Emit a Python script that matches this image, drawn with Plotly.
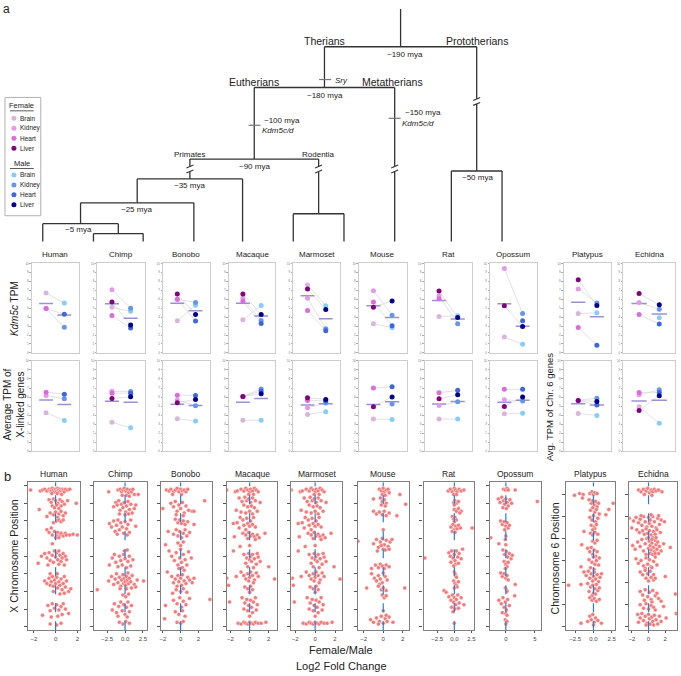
import plotly.graph_objects as go
import numpy as np

W, H = 681, 676
FONT = "Arial, Liberation Sans, sans-serif"

species = ["Human", "Chimp", "Bonobo", "Macaque", "Marmoset", "Mouse", "Rat", "Opossum", "Platypus", "Echidna"]
tissues = ["Brain", "Kidney", "Heart", "Liver"]
female_colors = ["#d9b5dc", "#e39be3", "#dc6bdc", "#82007f"]
male_colors = ["#87cdf8", "#6596ec", "#3f66e0", "#00008b"]
N = None

# ---- panel a, top row: Kdm5c TPM (per species) ----
kdm5c_f_brain = [6.7, 5.09, 3.59, 3.7, 7.59, 3.26, 4.07, 1.78, 4.41, N]
kdm5c_f_kidney = [4.95, 7.07, 6.0, 6.11, 6.11, 6.96, 6.37, 9.44, 7.15, 5.63]
kdm5c_f_heart = [4.95, 4.18, 6.0, 5.78, 4.74, 5.7, 6.04, N, 2.85, 4.3]
kdm5c_f_liver = [N, 5.68, 6.59, 6.59, 7.15, 5.11, 6.93, 5.26, 8.19, 6.63]
kdm5c_m_brain = [5.57, 4.65, 5.33, 5.3, 5.26, 2.81, 4.15, 0.96, 4.48, 3.93]
kdm5c_m_kidney = [2.86, 4.98, 5.63, 3.63, 2.7, 4.22, 3.26, 4.41, 5.59, 4.89]
kdm5c_m_heart = [4.32, 2.78, 3.56, 3.3, 2.48, 3.04, N, 3.59, 0.85, 3.22]
kdm5c_m_liver = [N, 3.11, 4.3, 4.3, 4.85, 5.81, 3.96, 2.96, 5.3, 5.37]

# ---- panel a, bottom row: average TPM of X-linked (Chr. 6) genes ----
xavg_f_brain = [4.26, 3.2, 3.6, 3.44, 4.07, 3.56, 3.56, 4.15, 4.19, 4.93]
xavg_f_kidney = [6.18, 6.65, 5.66, 6.07, 4.81, N, 5.07, 5.7, 5.62, 6.25]
xavg_f_heart = [6.54, 6.43, 6.21, 6.07, 5.63, 7.0, 6.48, 6.85, 5.62, 6.51]
xavg_f_liver = [N, 5.85, 5.37, 6.07, 5.93, 4.93, 5.81, 4.96, 5.62, 4.52]
xavg_m_brain = [3.42, 2.6, 3.35, 3.44, 4.37, 3.52, 3.56, 4.22, 3.97, 3.09]
xavg_m_kidney = [5.8, 6.62, 5.04, 6.89, 5.33, 5.22, 5.48, 5.56, 5.88, 6.8]
xavg_m_heart = [6.32, 6.43, 6.18, 6.67, 5.56, 7.15, 6.74, 6.85, 5.11, 6.51]
xavg_m_liver = [N, 6.03, 5.74, 6.37, 5.74, 6.0, 6.26, 6.0, 5.51, 6.14]

# ---- panel b: (log2 fold change, chromosome position in Mb) ----
human_fc = [(-2.3,155),(-1.4,154),(-1.2,155),(-1.0,156),(-0.8,154),(-0.6,156),(-0.5,154),(-0.4,155),(-0.3,157),(-0.2,155),(-0.1,153),(0.0,156),(0.1,154),(0.2,157),(0.25,155),(0.3,153),(0.4,156),(0.5,154),(0.6,156),(0.7,155),(0.8,153),(0.9,156),(1.1,155),(1.3,156),(0.15,151),(-0.35,151),(0.55,150),
 (-0.6,144),(-0.4,141),(-0.2,145),(0.0,143),(0.2,140),(0.4,144),(0.6,142),(0.8,139),(-0.3,137),(0.1,138),(0.5,137),(-1.5,133),(1.9,140),(1.1,143),(-0.1,135),(0.3,134),
 (-0.5,129),(-0.2,127),(0.0,130),(0.3,128),(0.5,131),(0.7,126),(0.9,129),(0.2,124),(-0.8,125),
 (0.1,120),(0.3,121),(0.5,119),(0.7,121),(-0.2,118),
 (-0.8,110),(-0.6,107),(-0.3,104),(-0.1,108),(0.1,103),(0.2,107),(0.4,104),(0.5,106),(0.7,103),(0.9,106),(1.0,104),(1.3,104),(1.6,105),(2.0,104),(-0.4,112),(0.0,101),(0.3,101),
 (-0.3,94),
 (-1.6,72),(-1.3,80),(-1.0,83),(-0.8,78),(-0.6,84),(-0.5,75),(-0.3,81),(-0.2,73),(0.0,79),(0.1,84),(0.2,76),(0.3,71),(0.4,81),(0.5,74),(0.6,78),(0.7,83),(0.8,70),(1.0,76),(-0.1,86),(0.3,86),(-0.7,70),(0.9,80),
 (-1.0,52),(-0.8,49),(-0.6,55),(-0.5,47),(-0.4,51),(-0.3,57),(-0.2,46),(-0.1,53),(0.0,49),(0.1,56),(0.2,44),(0.3,51),(0.4,47),(0.5,54),(0.6,42),(0.7,49),(0.8,57),(0.9,45),(1.0,52),(1.2,40),(1.4,43),(0.4,37),(0.8,38),(-0.2,40),(0.15,60),(-0.5,60),
 (-0.7,24),(-0.5,18),(-0.3,26),(-0.1,21),(0.1,25),(0.3,19),(0.5,23),(0.7,26),(0.9,20),(-1.2,13),(1.2,15),(0.2,12),(-0.4,11),(0.6,14),
 (-0.5,3),(0.1,2),(0.5,4)]

chimp_fc = [(-2.3,153),(-1.0,155),(-0.7,156),(-0.5,153),(-0.3,155),(-0.1,157),(0.1,154),(0.3,156),(0.5,152),(0.7,155),(0.9,153),(1.1,156),(1.3,150),(1.85,150),(0.2,149),(-0.4,149),(0.6,148),
 (-1.6,136),(-1.3,141),(-1.1,138),(-0.9,143),(-0.7,132),(-0.5,139),(-0.3,135),(-0.1,141),(0.1,130),(0.2,137),(0.4,142),(0.6,133),(0.8,139),(1.0,129),(1.3,134),(1.5,138),(-0.8,128),(0.0,127),(0.5,128),
 (-2.2,117),(-1.9,113),(-1.6,120),(-1.4,108),(-1.2,115),(-1.0,121),(-0.8,110),(-0.6,118),(-0.4,113),(-0.2,106),(0.0,119),(0.2,111),(0.4,116),(0.6,107),(0.8,121),(1.5,114),(-1.1,105),(0.3,104),
 (-2.2,70),(-1.8,78),(-1.5,82),(-1.3,73),(-1.0,68),(-0.8,80),(-0.6,75),(-0.4,70),(-0.2,82),(0.0,77),(0.2,67),(0.4,74),(0.6,80),(0.8,69),(1.1,76),(-0.1,86),(0.3,87),
 (-2.3,52),(-1.9,57),(-1.6,48),(-1.4,54),(-1.2,60),(-1.0,50),(-0.8,56),(-0.6,46),(-0.5,53),(-0.3,59),(-0.2,49),(-0.1,55),(0.0,51),(0.1,47),(0.2,57),(0.3,53),(0.4,61),(0.5,49),(0.6,55),(0.8,51),(1.0,58),(1.3,48),(1.7,53),(2.6,52),(-3.9,42),(0.2,43),(-0.7,43),(0.9,44),(1.5,45),
 (-0.3,36),(0.1,34),(0.5,37),
 (-1.8,19),(-1.5,26),(-1.2,16),(-0.9,23),(-0.6,28),(-0.4,18),(-0.2,25),(0.0,14),(0.2,22),(0.4,28),(0.6,17),(0.9,24),(-1.0,12),(0.3,11),
 (-0.8,5),(-0.3,3),(0.1,6),(0.6,4)]

bonobo_fc = [(-1.6,155),(-1.3,154),(-1.1,156),(-0.8,153),(-0.6,155),(-0.4,157),(-0.2,153),(0.0,156),(0.2,154),(0.4,155),(0.6,153),(0.8,156),(-0.9,150),(0.1,150),
 (2.7,143),(-2.0,134),(-1.1,140),(-0.8,136),(-0.6,142),(-0.4,131),(-0.2,138),(0.0,134),(0.2,141),(0.4,129),(0.6,137),(0.9,132),(1.3,131),(1.5,131),(-0.5,127),(0.3,126),
 (-0.6,122),(-0.3,118),(-0.1,121),(0.1,117),(0.3,120),(0.5,116),(0.8,119),(1.5,116),
 (-1.4,108),(-0.8,105),(-0.5,110),(-0.3,103),(-0.1,108),(0.1,101),(0.3,106),(0.5,110),(0.7,103),(1.0,107),
 (-1.7,93),(-0.3,95),(0.0,92),(0.3,96),
 (-1.3,86),(-1.0,80),(-0.7,75),(-0.5,84),(-0.3,70),(-0.1,78),(0.0,88),(0.1,73),(0.3,82),(0.5,76),(0.7,70),(0.9,85),(1.2,78),(-0.2,66),(0.2,67),(-1.5,62),(0.4,64),
 (-1.0,57),(-0.8,50),(-0.6,54),(-0.4,46),(-0.3,58),(-0.2,51),(0.0,55),(0.1,47),(0.2,59),(0.4,52),(0.6,49),(0.8,56),(1.0,53),(1.3,50),(1.5,55),(-0.5,42),(0.3,43),(0.0,40),(-0.9,38),(0.7,39),
 (3.3,31),(-1.7,24),(-0.8,30),(-0.4,26),(-0.1,33),(0.1,22),(0.3,29),(0.6,25),(1.0,32),(-0.6,17),(-0.2,14),(0.2,18),(0.5,12),(-1.8,9),(-0.4,5),(0.0,4),(0.3,6)]

macaque_fc = [(-2.4,155),(-1.5,153),(-1.3,154),(-0.9,156),(-0.6,154),(-0.4,157),(-0.2,155),(0.0,153),(0.1,156),(0.3,154),(0.5,157),(0.7,155),(0.9,153),(-0.1,150),(0.4,150),
 (-1.1,146),(-0.8,142),(-0.5,147),(-0.3,143),(-0.1,145),(0.1,141),(0.3,146),(0.6,143),(1.1,141),(-0.6,138),(-0.2,136),(0.2,137),(0.5,135),(-1.4,132),(-0.9,130),(-0.4,129),(0.0,131),(0.3,128),(0.8,131),(-1.0,124),(-0.7,121),(-0.3,123),(0.1,120),(0.4,124),(-1.7,117),(-1.3,118),(-0.6,115),(-0.2,117),(0.0,114),(0.3,116),(0.6,113),(-1.1,112),(-0.4,110),
 (-1.6,102),(-0.7,106),(-0.4,104),(-0.1,107),(0.1,103),(0.3,105),(0.5,102),(0.8,104),(1.0,101),(1.6,106),(-0.2,100),(0.6,99),
 (-1.0,91),(0.0,92),(-1.7,86),
 (-0.6,82),(-0.3,78),(-0.1,83),(0.0,76),(0.1,80),(0.2,74),(0.3,82),(0.5,77),(0.7,71),(0.9,79),(1.1,74),(-0.4,72),(-0.2,68),(0.4,67),(2.0,68),(0.8,83),
 (-2.4,55),(-1.4,57),(-0.9,62),(-0.6,58),(-0.4,54),(-0.2,60),(0.0,56),(0.1,62),(0.3,58),(0.5,53),(0.7,61),(0.9,57),(2.6,54),(-0.1,52),(0.4,50),
 (-2.2,47),(-0.5,45),(-0.2,43),(0.1,46),(0.3,42),(0.0,39),
 (-2.1,28),(-0.8,33),(-0.5,27),(-0.3,31),(-0.1,24),(0.1,30),(0.2,22),(0.4,28),(0.6,33),(0.8,25),(-0.6,20),(-0.2,18),(0.3,16),(0.7,19),(0.0,12),
 (-1.2,4),(-0.9,3),(-0.6,5),(-0.4,4),(-0.2,3),(0.0,5),(0.2,4),(0.4,3),(0.6,5),(0.9,4),(1.2,4),(1.7,5)]

marmoset_fc = [(-2.4,155),(-1.5,153),(-1.3,154),(-0.9,156),(-0.6,154),(-0.4,157),(-0.2,155),(0.0,153),(0.1,156),(0.3,154),(0.5,157),(0.7,155),(0.9,153),(-0.1,150),(0.4,150),
 (-1.1,146),(-0.8,142),(-0.5,147),(-0.3,143),(-0.1,145),(0.1,141),(0.3,146),(0.6,143),(1.1,141),(-0.6,138),(-0.2,136),(0.2,137),(0.5,135),(-1.4,132),(-0.9,130),(-0.4,129),(0.0,131),(0.3,128),(0.8,131),(-1.0,124),(-0.7,121),(-0.3,123),(0.1,120),(0.4,124),(-1.7,117),(-1.3,118),(-0.6,115),(-0.2,117),(0.0,114),(0.3,116),(0.6,113),(-1.1,112),(-0.4,110),
 (-1.6,102),(-0.7,106),(-0.4,104),(-0.1,107),(0.1,103),(0.3,105),(0.5,102),(0.8,104),(1.0,101),(1.6,106),(-0.2,100),(0.6,99),
 (-1.0,91),(0.0,92),(-1.7,86),
 (-0.6,82),(-0.3,78),(-0.1,83),(0.0,76),(0.1,80),(0.2,74),(0.3,82),(0.5,77),(0.7,71),(0.9,79),(1.1,74),(-0.4,72),(-0.2,68),(0.4,67),(1.9,68),(0.8,83),
 (-2.3,55),(-1.4,57),(-0.9,62),(-0.6,58),(-0.4,54),(-0.2,60),(0.0,56),(0.1,62),(0.3,58),(0.5,53),(0.7,61),(0.9,57),(2.5,54),(-0.1,52),(0.4,50),
 (-2.2,47),(-0.5,45),(-0.2,43),(0.1,46),(0.3,42),(0.0,39),
 (-2.1,28),(-0.8,33),(-0.5,27),(-0.3,31),(-0.1,24),(0.1,30),(0.2,22),(0.4,28),(0.6,33),(0.8,25),(-0.6,20),(-0.2,18),(0.3,16),(0.7,19),(0.0,12),
 (-1.2,4),(-0.9,3),(-0.6,5),(-0.4,4),(-0.2,3),(0.0,5),(0.2,4),(0.4,3),(0.6,5),(0.9,4),(1.2,4),(1.7,5)]

mouse_fc = [(-0.4,156),(-0.2,154),(0.0,157),(0.1,153),(0.3,155),(0.5,156),(0.6,152),(-0.1,150),(0.2,149),(1.7,150),
 (-1.0,145),(-0.3,146),(-0.1,142),(0.1,144),(0.3,140),(2.3,139),(-0.2,138),(0.2,137),
 (-1.0,131),(-0.7,128),(-0.4,130),(-0.1,127),(0.1,131),(0.3,126),(0.6,129),(1.4,126),
 (0.0,110),
 (-2.6,97),(-1.0,94),(-0.7,99),(-0.5,90),(-0.3,96),(-0.1,100),(0.0,88),(0.1,93),(0.3,98),(0.5,91),(0.7,96),(0.9,99),(-0.6,86),(0.2,87),(0.6,88),(-0.2,92),
 (-1.2,66),(-0.8,70),(-0.5,67),(-0.3,71),(-0.1,69),(0.1,66),(0.3,70),(0.6,68),
 (-1.2,60),(-0.9,55),(-0.7,52),(-0.5,58),(-0.3,54),(-0.1,50),(0.0,61),(0.2,57),(0.4,53),(-0.4,48),
 (-1.7,44),(-0.5,46),(-0.2,42),(0.0,44),(0.3,41),(2.2,44),
 (-0.1,36),(0.1,33),(0.3,35),
 (0.0,18),
 (-1.3,8),(-1.0,5),(-0.7,10),(-0.4,6),(-0.2,12),(0.0,4),(0.2,9),(0.4,6),(0.6,11),(1.0,5),(-0.5,3),(0.3,13)]

rat_fc = [(-0.9,154),(-0.6,156),(-0.3,153),(0.0,157),(0.2,155),(0.4,153),(0.7,156),(1.0,154),(1.4,155),(-0.1,150),(0.3,150),
 (-0.1,141),(0.1,143),(0.3,140),(0.6,142),(0.0,138),
 (0.0,133),(0.3,131),(0.6,134),(1.0,131),(0.8,129),
 (-0.3,125),(-0.1,122),(0.1,124),(0.3,121),(0.0,119),
 (-0.5,113),(-0.2,116),(0.0,110),(0.2,114),(0.4,111),(0.6,115),(0.9,112),(2.6,112),(-0.3,108),(0.1,107),
 (-4.3,78),(-0.8,84),(-0.6,80),(-0.4,86),(-0.2,78),(0.0,82),(0.1,75),(0.3,86),(0.5,79),(0.7,83),(1.0,77),(-0.5,73),(0.2,71),(0.6,72),(-0.1,69),(1.2,88),
 (0.0,62),(0.2,58),(0.3,56),(0.1,60),
 (-0.1,52),(0.1,49),(0.3,47),(0.6,51),(0.4,45),(0.0,44),
 (-1.5,41),(-1.2,39),
 (-0.8,34),(-0.5,30),(-0.3,36),(-0.1,28),(0.0,33),(0.2,25),(0.3,31),(0.5,36),(0.7,27),(1.0,33),(1.4,25),(-0.4,22),(0.1,20),(0.6,21),(-0.2,17),
 (0.0,4)]

opossum_fc = [(-0.4,156),(-0.1,155),(0.2,157),(0.4,155),(1.6,155),
 (-1.3,145),(-1.0,141),(-0.7,147),(-0.4,143),(-0.2,139),(0.0,145),(0.2,141),(0.4,137),(0.7,144),(1.0,140),(5.4,142),(-0.5,135),(0.1,134),
 (-0.9,120),(-0.6,116),(-0.3,119),(0.0,114),(0.2,118),(0.4,112),(0.6,115),(-0.2,110),
 (-2.6,101),(0.0,103),(-0.1,99),
 (-1.2,94),(0.0,93),
 (-0.5,87),(-0.2,82),(0.1,85),(0.3,79),(0.6,83),(0.9,77),(1.1,81),(-0.3,74),(0.0,71),(0.4,73),(0.2,68),(-0.1,66),
 (-0.9,61),(-0.6,57),(-0.3,60),(0.0,55),(0.2,58),(0.4,53),(1.6,48),
 (-0.1,44),(0.1,42),(0.2,40),
 (-1.2,30),(-0.8,26),(-0.5,33),(-0.3,22),(-0.1,28),(0.1,19),(0.3,31),(0.6,24),(1.5,35),(-0.6,16),(0.0,15),(0.2,13),
 (-0.1,8),(0.1,5),(0.2,6),(0.0,3)]

platypus_fc = [(-2.6,149),(-1.9,151),(-1.4,150),(-0.5,151),(-0.2,153),(0.0,150),(0.2,152),(0.5,151),(-1.5,146),
 (-0.6,144),(-0.3,140),(-0.1,143),(0.1,138),(0.3,142),(0.5,136),(0.7,140),(2.7,140),(-0.4,132),(-0.1,135),(0.2,130),(0.4,133),(0.8,128),(2.1,133),(1.7,127),(-0.5,124),(-0.2,121),(0.0,126),(0.3,119),(0.6,123),(-0.3,115),(0.1,113),(0.4,116),(0.2,111),(-0.1,110),
 (-1.3,108),(-0.4,106),(-0.1,104),(0.2,107),(0.6,105),
 (-1.6,93),(-0.1,97),(0.2,95),(0.5,98),
 (-0.8,89),(-0.5,85),(-0.3,90),(-0.1,82),(0.1,87),(0.3,80),(0.5,85),(0.8,78),(-0.6,76),(-0.2,73),(0.0,79),(0.2,71),(0.4,75),(0.7,70),(-1.7,68),(-0.4,67),(0.1,65),
 (-1.3,62),(-1.0,58),(-0.7,63),(-0.5,55),(-0.3,60),(-0.1,52),(0.0,57),(0.1,62),(0.3,54),(0.5,59),(0.7,51),(0.9,56),(1.1,60),(-3.4,47),(-1.7,48),(-0.8,49),(-0.4,45),(-0.1,47),(0.2,43),(0.4,48),(0.6,41),(-0.6,40),(0.0,38),(0.3,37),(0.8,44),(-0.2,35),
 (-0.5,33),(-0.2,30),(0.1,32),(0.4,29),(0.8,31),
 (-1.7,4),(-0.8,6),(-0.5,12),(-0.3,8),(-0.1,14),(0.1,5),(0.3,10),(0.6,7),(1.1,4),(0.0,2)]

echidna_fc = [(-1.2,155),(-0.9,153),(-0.6,156),(-0.3,154),(-0.1,157),(0.1,152),(0.3,155),(0.5,153),(0.7,156),(0.9,154),(1.2,155),(1.6,153),(-0.5,150),(0.4,149),
 (-2.3,123),(-1.8,120),(-1.5,124),(-1.2,118),(-1.0,122),(-0.8,115),(-0.6,125),(-0.4,119),(-0.2,113),(0.0,124),(0.1,117),(0.2,121),(0.4,114),(0.5,125),(0.7,119),(0.9,112),(1.1,123),(1.3,116),(1.5,121),(1.9,119),(-1.4,110),(-1.1,107),(-0.7,109),(-0.5,105),(-0.3,111),(-0.1,106),(0.1,109),(0.3,104),(0.6,108),(0.8,105),(1.0,110),(1.4,107),(-2.0,112),(-0.9,126),(0.3,127),(1.2,126),
 (-1.9,92),(-1.6,88),(-1.3,96),(-1.0,91),(-0.8,99),(-0.6,86),(-0.4,94),(-0.2,100),(0.0,89),(0.1,97),(0.2,92),(0.3,87),(0.4,95),(0.5,101),(0.6,90),(0.7,85),(0.8,98),(0.9,93),(1.0,88),(1.1,96),(1.3,91),(1.5,86),(1.8,94),(2.6,90),(0.2,83),(0.5,82),(0.8,83),(-0.3,82),(1.2,83),(0.0,101),(0.4,99),(0.9,101),
 (-1.5,77),(-1.2,72),(-0.9,75),(-0.6,69),(-0.3,78),(-0.1,71),(0.1,76),(0.3,68),(0.6,74),(0.8,79),(1.0,70),(-0.4,66),(0.4,67),
 (-1.0,62),(-0.7,59),(-0.4,64),(-0.1,60),(0.2,63),(0.6,59),
 (-0.3,55),(0.0,52),(0.3,56),(0.6,53),(0.8,55),(2.0,57),
 (-1.0,40),(-0.7,36),(-0.4,42),(-0.1,34),(0.1,39),(0.3,31),(0.5,41),(0.8,35),(1.0,38),(1.2,32),(3.2,37),(1.5,29),(-0.5,30),(0.4,28),
 (1.8,23),(-1.0,25),(-0.6,21),(-0.3,26),(0.0,20),(0.3,24),(0.6,22),(0.8,19),
 (-1.3,14),(-1.0,10),(-0.8,15),(-0.6,7),(-0.4,12),(-0.2,4),(0.0,14),(0.1,9),(0.2,3),(0.4,11),(0.5,6),(0.7,13),(0.9,8),(1.1,3),(1.3,12),(1.5,6),(3.3,15),(2.1,10),(-1.2,5),(-0.3,2),(0.6,2)]

fc_data = [human_fc, chimp_fc, bonobo_fc, macaque_fc, marmoset_fc, mouse_fc, rat_fc, opossum_fc, platypus_fc, echidna_fc]
fc_ranges = [[-2.55, 2.2], [-4.3, 3.1], [-2.2, 3.5], [-2.4, 2.9], [-2.4, 2.7], [-2.6, 2.6], [-4.5, 2.9], [-2.7, 6.0], [-3.8, 3.0], [-2.3, 3.4]]
fc_ticks = [[-2, 0, 2], [-2.5, 0, 2.5], [-2, 0, 2], [-2, 0, 2], [-2, 0, 2], [-2, 0, 2], [-2.5, 0, 2.5], [0, 5], [-2.5, 0, 2.5], [-2, 0, 2]]
fc_tickfmt = ["d", ".1f", "d", "d", "d", "d", ".1f", "d", ".1f", "d"]

# ---- layout constants (pixels) ----
pa_x0 = [30, 96, 162, 228, 293, 359, 425, 491, 565, 625]
pa_x1 = [77, 144, 209, 275, 340, 407, 473, 538, 613, 677]
pa_rows = [(263, 353), (361, 452)]
pb_x0 = [26, 93, 160, 226, 291, 358, 424, 491, 567, 631]
pb_x1 = [78, 146, 211, 277, 342, 409, 475, 542, 617, 679]
pb_y = (483, 632)


def dx(x0, x1):
    return [x0 / W, x1 / W]


def dy(y0, y1):
    return [1 - y1 / H, 1 - y0 / H]


fig = go.Figure()
layout = dict(width=W, height=H, margin=dict(l=0, r=0, t=0, b=0),
              paper_bgcolor="white", plot_bgcolor="rgba(0,0,0,0)", showlegend=False,
              font=dict(family=FONT, color="#222"))
layout["xaxis"] = dict(domain=[0, 1], range=[0, W], visible=False)
layout["yaxis"] = dict(domain=[0, 1], range=[H, 0], visible=False)
annotations = []
shapes = []


def txt(x, y, s, size=9, anchor="center", angle=0, color="#222"):
    annotations.append(dict(x=x, y=y, xref="x", yref="y", text=s, showarrow=False,
                            font=dict(size=size, family=FONT, color=color),
                            xanchor=anchor, yanchor="middle", textangle=angle))


# ---- phylogenetic tree ----
leaf_x = {"Human": 41, "Chimp": 92, "Bonobo": 142, "Macaque": 193, "Marmoset": 242,
          "Mouse": 293, "Rat": 344, "Opossum": 395, "Platypus": 452, "Echidna": 503}
leaf_y = 241
tree = ("Mammals", 45, [
    ("Therians", 86, [
        ("Eutherians", 158, [
            ("Primates", 178, [
                ("Catarrhini", 202, [
                    ("Hominini", 223, ["Human", ("Pan", 233, ["Chimp", "Bonobo"])]),
                    "Macaque"]),
                "Marmoset"]),
            ("Rodentia", 213, ["Mouse", "Rat"])]),
        "Opossum"]),
    ("Monotremes", 170, ["Platypus", "Echidna"])])
breaks = {"Primates": 168, "Rodentia": 168, "Opossum": 168, "Monotremes": 100}

tx, ty = [], []
brk_pts = []


def draw(node):
    if isinstance(node, str):
        return leaf_x[node], leaf_y, node
    name, y, kids = node
    res = [draw(k) for k in kids]
    xs = [r[0] for r in res]
    x = float(np.mean(xs))
    tx.extend([min(xs), max(xs), None]); ty.extend([y, y, None])
    for (cx, cy, cname) in res:
        tx.extend([cx, cx, None]); ty.extend([y, cy, None])
        if cname in breaks:
            brk_pts.append((cx, breaks[cname]))
    return x, y, name


rx, ry, _ = draw(tree)
tx.extend([rx, rx, None]); ty.extend([7, ry, None])
fig.add_trace(go.Scatter(x=tx, y=ty, mode="lines", line=dict(color="#333", width=1.3),
                         xaxis="x", yaxis="y", hoverinfo="skip"))
# branch ticks (gene events)
ev_x, ev_y = [], []
for (x0, x1, y) in [(319, 331, 78), (248, 260, 124), (389, 401, 117)]:
    ev_x.extend([x0, x1, None]); ev_y.extend([y, y, None])
fig.add_trace(go.Scatter(x=ev_x, y=ev_y, mode="lines", line=dict(color="#777", width=1.2),
                         xaxis="x", yaxis="y", hoverinfo="skip"))
# break marks
wx, wy, sx, sy = [], [], [], []
for (bx, by) in brk_pts:
    wx.extend([bx, bx, None]); wy.extend([by - 2.6, by + 2.6, None])
    sx.extend([bx - 3.5, bx + 3.5, None, bx - 3.5, bx + 3.5, None])
    sy.extend([by - 1, by - 4, None, by + 4, by + 1, None])
fig.add_trace(go.Scatter(x=wx, y=wy, mode="lines", line=dict(color="white", width=3),
                         xaxis="x", yaxis="y", hoverinfo="skip"))
fig.add_trace(go.Scatter(x=sx, y=sy, mode="lines", line=dict(color="#333", width=1.1),
                         xaxis="x", yaxis="y", hoverinfo="skip"))

txt(5, 7, "a", size=12)
txt(324, 39, "Therians", size=10.5)
txt(478, 39, "Prototherians", size=10.5)
txt(405, 53, "~190 mya", size=8)
txt(253, 80, "Eutherians", size=10.5)
txt(393, 80, "Metatherians", size=10.5)
txt(333, 79, "<i>Sry</i>", size=8, anchor="left")
txt(325, 94, "~180 mya", size=8)
txt(262, 119, "~100 mya", size=8, anchor="left")
txt(278, 129, "<i>Kdm5c/d</i>", size=8)
txt(403, 111, "~150 mya", size=8, anchor="left")
txt(418, 122, "<i>Kdm5c/d</i>", size=8)
txt(189, 153, "Primates", size=8)
txt(318, 153, "Rodentia", size=8)
txt(254, 165, "~90 mya", size=8)
txt(189, 185, "~35 mya", size=8)
txt(135, 209, "~25 mya", size=8)
txt(77, 229, "~5 mya", size=8)
txt(478, 177, "~50 mya", size=8)

# ---- legend box ----
shapes.append(dict(type="rect", xref="x", yref="y", x0=3, x1=39, y0=96, y1=215,
                   line=dict(color="#b0b0b0", width=1), fillcolor="white", layer="below"))
txt(20, 104, "Female", size=7.5)
txt(20, 162, "Male", size=7.5)
for uy in (109.5, 167.5):
    shapes.append(dict(type="line", xref="x", yref="y", x0=8, x1=32, y0=uy, y1=uy,
                       line=dict(color="#333", width=0.8)))
leg_y_f = [117, 127, 137, 147]
leg_y_m = [174, 184, 194, 204]
fig.add_trace(go.Scatter(x=[12] * 8, y=leg_y_f + leg_y_m, mode="markers",
                         marker=dict(size=5, color=female_colors + male_colors),
                         xaxis="x", yaxis="y", hoverinfo="skip"))
for t, yy in zip(tissues * 2, leg_y_f + leg_y_m):
    txt(16, yy, t, size=6.5, anchor="left")

# ---- panel a ----
rows = [
    ([kdm5c_f_brain, kdm5c_f_kidney, kdm5c_f_heart, kdm5c_f_liver],
     [kdm5c_m_brain, kdm5c_m_kidney, kdm5c_m_heart, kdm5c_m_liver]),
    ([xavg_f_brain, xavg_f_kidney, xavg_f_heart, xavg_f_liver],
     [xavg_m_brain, xavg_m_kidney, xavg_m_heart, xavg_m_liver]),
]
k = 2
for r, (fl, ml) in enumerate(rows):
    y0, y1 = pa_rows[r]
    for i, sp in enumerate(species):
        xa, ya = f"x{k}", f"y{k}"
        layout[f"xaxis{k}"] = dict(domain=dx(pa_x0[i], pa_x1[i]), range=[0.22, 2.78], anchor=ya,
                                   showticklabels=False, ticks="", showgrid=False, zeroline=False,
                                   showline=True, mirror=True, linecolor="#cdcdcd", linewidth=1)
        layout[f"yaxis{k}"] = dict(domain=dy(y0, y1), range=[0, 10], dtick=1, anchor=xa,
                                   ticks="outside", ticklen=1.5, tickcolor="#aaa", tickwidth=0.5,
                                   tickfont=dict(size=3, color="#777"), showgrid=False, zeroline=False,
                                   showline=True, mirror=True, linecolor="#cdcdcd", linewidth=1)
        fv = [lst[i] for lst in fl]
        mv = [lst[i] for lst in ml]
        cx, cy = [], []
        for a, b in zip(fv, mv):
            if a is not None and b is not None:
                cx.extend([1, 2, None]); cy.extend([a, b, None])
        fig.add_trace(go.Scatter(x=cx, y=cy, mode="lines", line=dict(color="#d9d9d9", width=0.8),
                                 xaxis=xa, yaxis=ya, hoverinfo="skip"))
        fmean = float(np.mean([v for v in fv if v is not None]))
        mmean = float(np.mean([v for v in mv if v is not None]))
        fig.add_trace(go.Scatter(x=[0.62, 1.38, None, 1.62, 2.38], y=[fmean, fmean, None, mmean, mmean],
                                 mode="lines", line=dict(color="#9a90d4", width=1.5),
                                 xaxis=xa, yaxis=ya, hoverinfo="skip"))
        px_, py_, pc_ = [], [], []
        for v, c in zip(fv, female_colors):
            if v is not None:
                px_.append(1); py_.append(v); pc_.append(c)
        for v, c in zip(mv, male_colors):
            if v is not None:
                px_.append(2); py_.append(v); pc_.append(c)
        fig.add_trace(go.Scatter(x=px_, y=py_, mode="markers", marker=dict(size=5, color=pc_),
                                 xaxis=xa, yaxis=ya, hoverinfo="skip"))
        if r == 0:
            txt((pa_x0[i] + pa_x1[i]) / 2, 254, sp, size=8)
        k += 1

txt(12, 308, "<i>Kdm5c</i> TPM", size=10, angle=-90)
txt(12, 405, "Average TPM of<br>X-linked genes", size=10, angle=-90)
txt(551, 407, "Avg. TPM of Chr. 6 genes", size=9.5, angle=-90)

# ---- panel b ----
for i, sp in enumerate(species):
    xa, ya = f"x{k}", f"y{k}"
    layout[f"xaxis{k}"] = dict(domain=dx(pb_x0[i], pb_x1[i]), range=fc_ranges[i], anchor=ya,
                               tickvals=fc_ticks[i], tickformat=fc_tickfmt[i], ticks="outside",
                               ticklen=2, tickcolor="#555", tickfont=dict(size=6, color="#444"),
                               showgrid=False, zeroline=False, showline=True, mirror=True,
                               linecolor="#808080", linewidth=1.2)
    layout[f"yaxis{k}"] = dict(domain=dy(*pb_y), range=[-4, 164], dtick=(25 if i >= 8 else 20),
                               anchor=xa, showticklabels=False, ticks="outside", ticklen=3,
                               tickcolor="#555", showgrid=False, zeroline=False, showline=True,
                               mirror=True, linecolor="#808080", linewidth=1.2)
    pts = fc_data[i]
    fig.add_trace(go.Scatter(x=[p[0] for p in pts], y=[p[1] for p in pts], mode="markers",
                             marker=dict(size=4, color="#f27a7a", line=dict(color="white", width=0.4)),
                             xaxis=xa, yaxis=ya, hoverinfo="skip"))
    fig.add_trace(go.Scatter(x=[0, 0], y=[-4, 164], mode="lines",
                             line=dict(color="#2a7fd4", width=1.2, dash="dash"),
                             xaxis=xa, yaxis=ya, hoverinfo="skip"))
    txt((pb_x0[i] + pb_x1[i]) / 2, 475, sp, size=8.5)
    k += 1

txt(6, 477, "b", size=13)
txt(12, 557, "X Chromosome Position", size=10.5, angle=-90)
txt(556, 560, "Chromosome 6 Position", size=10.5, angle=-90)
txt(341, 652, "Female/Male", size=11)
txt(341, 668, "Log2 Fold Change", size=11)

layout["annotations"] = annotations
layout["shapes"] = shapes
fig.update_layout(**layout)
fig.write_html("out.html", config={"displayModeBar": False},
               post_script="document.body.style.margin='0px';document.body.style.padding='0px';document.body.style.overflow='hidden';")
